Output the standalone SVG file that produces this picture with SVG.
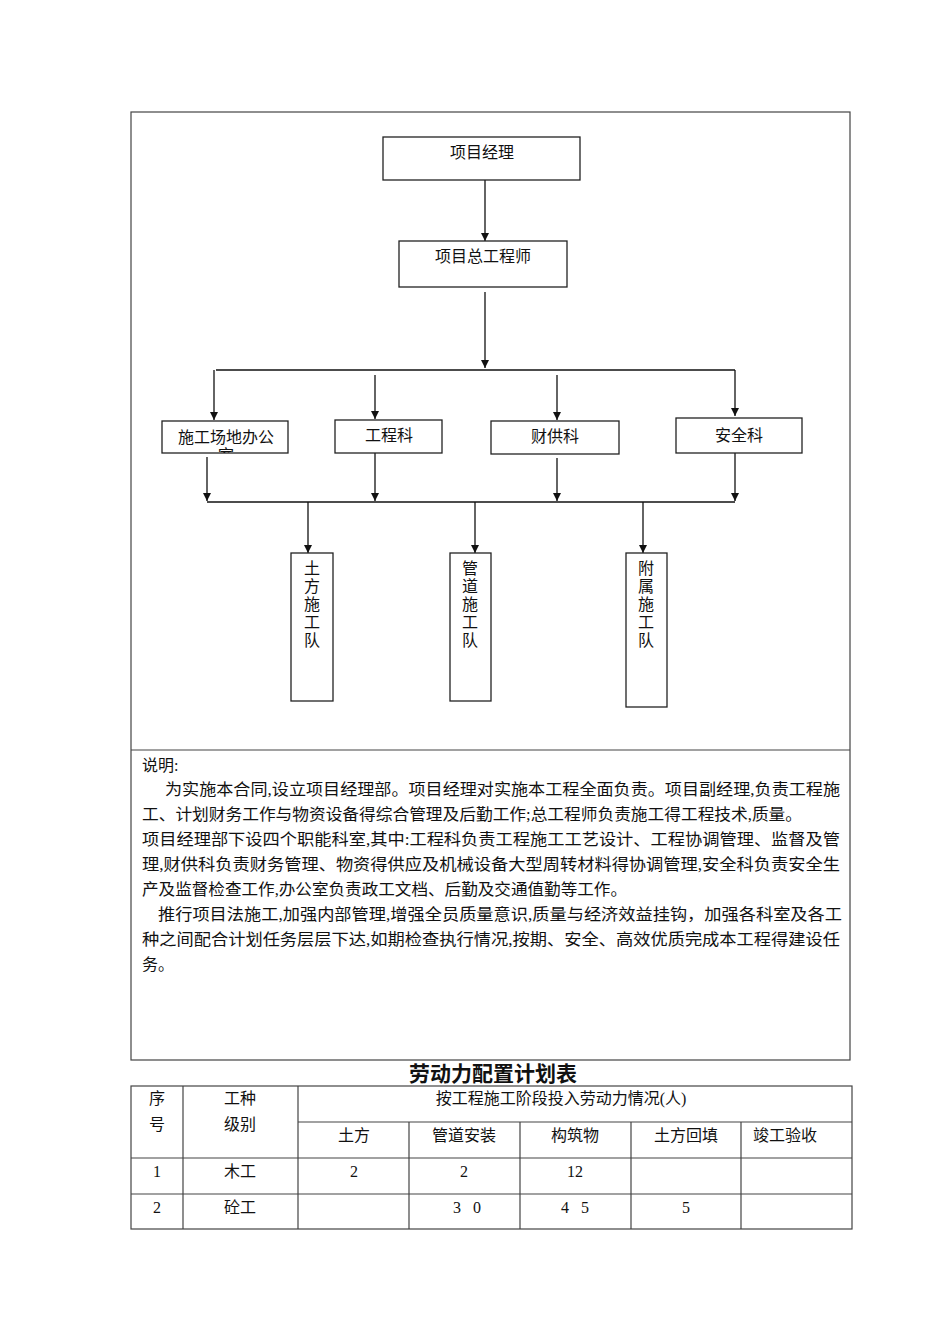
<svg xmlns="http://www.w3.org/2000/svg" width="950" height="1344" viewBox="0 0 950 1344">
<style>
text{font-family:"Liberation Serif","Noto Sans CJK SC",serif;font-size:16px;fill:#111}
.c{text-anchor:middle}
.box{fill:#fff;stroke:#222;stroke-width:1.3}
.frame{fill:none;stroke:#444;stroke-width:1.2}
.ln{stroke:#111;stroke-width:1.3;fill:none}
.arr{stroke:#111;stroke-width:1.3;fill:none;marker-end:url(#ah)}
.title{font-size:21px;font-weight:bold;font-family:"Noto Sans CJK SC",sans-serif}
.sp{letter-spacing:4px}
</style>
<defs>
<marker id="ah" viewBox="0 0 10 10" refX="10" refY="5" markerWidth="8" markerHeight="8" markerUnits="userSpaceOnUse" orient="auto">
<path d="M0,0 L10,5 L0,10 z" fill="#111"/>
</marker>
<clipPath id="clipOffice"><rect x="162" y="421" width="126" height="32"/></clipPath>
</defs>
<rect width="950" height="1344" fill="#fff"/>

<g id="frame">
<rect class="frame" x="131" y="112" width="719" height="948"/>
<line class="frame" x1="131" y1="750" x2="850" y2="750"/>
</g>

<g id="connectors">
<line class="arr" x1="485" y1="180" x2="485" y2="241"/>
<line class="arr" x1="485" y1="292" x2="485" y2="368"/>
<line class="ln" x1="216" y1="370" x2="735" y2="370"/>
<line class="arr" x1="214" y1="370" x2="214" y2="420"/>
<line class="arr" x1="375" y1="375" x2="375" y2="419"/>
<line class="arr" x1="557" y1="375" x2="557" y2="420"/>
<line class="arr" x1="735" y1="370" x2="735" y2="416"/>
<line class="arr" x1="207" y1="457" x2="207" y2="501"/>
<line class="arr" x1="375" y1="453" x2="375" y2="501"/>
<line class="arr" x1="557" y1="458" x2="557" y2="501"/>
<line class="arr" x1="735" y1="453" x2="735" y2="501"/>
<line class="ln" x1="207" y1="502" x2="735" y2="502"/>
<line class="arr" x1="308" y1="502" x2="308" y2="553"/>
<line class="arr" x1="475" y1="502" x2="475" y2="553"/>
<line class="arr" x1="643" y1="502" x2="643" y2="553"/>
</g>

<g id="pm">
<rect class="box" x="383" y="137" width="197" height="43"/>
<text class="c" x="482" y="158">项目经理</text>
</g>
<g id="chief">
<rect class="box" x="399" y="241" width="168" height="46"/>
<text class="c" x="483" y="262">项目总工程师</text>
</g>
<g id="office">
<rect class="box" x="162" y="421" width="126" height="32"/>
<g clip-path="url(#clipOffice)">
<text class="c" x="226" y="443">施工场地办公</text>
<text class="c" x="226" y="461">室</text>
</g>
</g>
<g id="eng">
<rect class="box" x="335" y="420" width="107" height="33"/>
<text class="c" x="389" y="441">工程科</text>
</g>
<g id="finance">
<rect class="box" x="491" y="421" width="128" height="33"/>
<text class="c" x="555" y="442">财供科</text>
</g>
<g id="safety">
<rect class="box" x="676" y="418" width="126" height="35"/>
<text class="c" x="739" y="441">安全科</text>
</g>
<g id="team1">
<rect class="box" x="291" y="553" width="42" height="148"/>
<text class="c" x="312" y="574">土</text>
<text class="c" x="312" y="592">方</text>
<text class="c" x="312" y="610">施</text>
<text class="c" x="312" y="628">工</text>
<text class="c" x="312" y="646">队</text>
</g>
<g id="team2">
<rect class="box" x="450" y="553" width="41" height="148"/>
<text class="c" x="470" y="574">管</text>
<text class="c" x="470" y="592">道</text>
<text class="c" x="470" y="610">施</text>
<text class="c" x="470" y="628">工</text>
<text class="c" x="470" y="646">队</text>
</g>
<g id="team3">
<rect class="box" x="626" y="553" width="41" height="154"/>
<text class="c" x="646" y="574">附</text>
<text class="c" x="646" y="592">属</text>
<text class="c" x="646" y="610">施</text>
<text class="c" x="646" y="628">工</text>
<text class="c" x="646" y="646">队</text>
</g>

<g id="notes">
<text x="142" y="771">说明:</text>
<text x="165" y="795" textLength="675" lengthAdjust="spacingAndGlyphs">为实施本合同,设立项目经理部。项目经理对实施本工程全面负责。项目副经理,负责工程施</text>
<text x="142" y="820" textLength="660" lengthAdjust="spacingAndGlyphs">工、计划财务工作与物资设备得综合管理及后勤工作;总工程师负责施工得工程技术,质量。</text>
<text x="142" y="845" textLength="698" lengthAdjust="spacingAndGlyphs">项目经理部下设四个职能科室,其中:工程科负责工程施工工艺设计、工程协调管理、监督及管</text>
<text x="142" y="870" textLength="698" lengthAdjust="spacingAndGlyphs">理,财供科负责财务管理、物资得供应及机械设备大型周转材料得协调管理,安全科负责安全生</text>
<text x="142" y="895" textLength="485" lengthAdjust="spacingAndGlyphs">产及监督检查工作,办公室负责政工文档、后勤及交通值勤等工作。</text>
<text x="158" y="920" textLength="684" lengthAdjust="spacingAndGlyphs">推行项目法施工,加强内部管理,增强全员质量意识,质量与经济效益挂钩，加强各科室及各工</text>
<text x="142" y="945" textLength="698" lengthAdjust="spacingAndGlyphs">种之间配合计划任务层层下达,如期检查执行情况,按期、安全、高效优质完成本工程得建设任</text>
<text x="142" y="970">务。</text>
</g>

<g id="table">
<text class="c title" x="493" y="1081">劳动力配置计划表</text>
<rect class="frame" x="131" y="1086" width="721" height="143"/>
<line class="frame" x1="298" y1="1122" x2="852" y2="1122"/>
<line class="frame" x1="131" y1="1158" x2="852" y2="1158"/>
<line class="frame" x1="131" y1="1194" x2="852" y2="1194"/>
<line class="frame" x1="183" y1="1086" x2="183" y2="1229"/>
<line class="frame" x1="298" y1="1086" x2="298" y2="1229"/>
<line class="frame" x1="409" y1="1122" x2="409" y2="1229"/>
<line class="frame" x1="520" y1="1122" x2="520" y2="1229"/>
<line class="frame" x1="631" y1="1122" x2="631" y2="1229"/>
<line class="frame" x1="741" y1="1122" x2="741" y2="1229"/>
<text class="c" x="157" y="1104">序</text>
<text class="c" x="157" y="1130">号</text>
<text class="c" x="240" y="1104">工种</text>
<text class="c" x="240" y="1130">级别</text>
<text class="c" x="561" y="1104">按工程施工阶段投入劳动力情况(人)</text>
<text class="c" x="354" y="1141">土方</text>
<text class="c" x="464" y="1141">管道安装</text>
<text class="c" x="575" y="1141">构筑物</text>
<text class="c" x="686" y="1141">土方回填</text>
<text class="c" x="785" y="1141">竣工验收</text>
<text class="c" x="157" y="1177">1</text>
<text class="c" x="240" y="1177">木工</text>
<text class="c" x="354" y="1177">2</text>
<text class="c" x="464" y="1177">2</text>
<text class="c" x="575" y="1177">12</text>
<text class="c" x="157" y="1213">2</text>
<text class="c" x="240" y="1213">砼工</text>
<text class="c sp" x="469" y="1213">3 0</text>
<text class="c sp" x="577" y="1213">4 5</text>
<text class="c" x="686" y="1213">5</text>
</g>
</svg>
